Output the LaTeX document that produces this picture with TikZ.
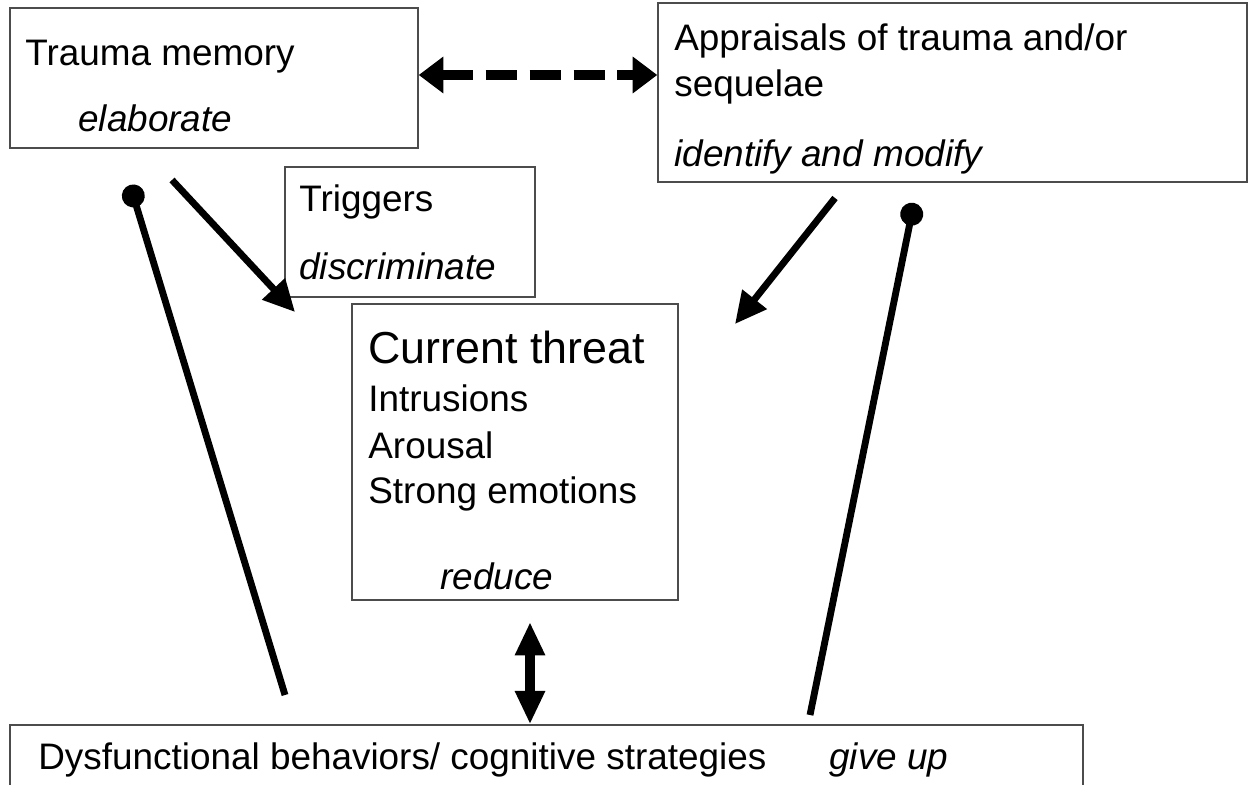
\documentclass[tikz,border=0pt]{standalone}
\usepackage{fontspec}
\setmainfont{Liberation Sans}
\usetikzlibrary{arrows.meta,fit}

\begin{document}
\begin{tikzpicture}[x=0.02cm, y=-0.02cm,
  box/.style = {draw=black!70, line width=0.8pt, inner sep=0pt},
  txt/.style = {anchor=base west, inner sep=0pt, font=\fontsize{21}{25}\selectfont},
  itxt/.style = {txt, font=\fontsize{21}{25}\selectfont\itshape},
  link/.style = {line width=3.9pt},
  head/.style = {-{Triangle[length=18pt,width=17pt]}},
  ball/.style = {{Circle[length=13pt]}-}]
\useasboundingbox (0,0) rectangle (1250,784);

\node[box, fit={(10,8) (418,148)}] (mem) {};
\node[box, fit={(658,3) (1247,182)}] (app) {};
\node[box, fit={(285,167) (535,297)}] (trig) {};
\node[box, fit={(352,304) (678,600)}] (threat) {};
\node[box, fit={(10,725) (1083,800)}] (strat) {};

\node[txt] (mem1) at (25,66) {Trauma memory};
\node[itxt] (mem2) at (78,132) {elaborate};
\node[txt] (app1) at (674,51) {Appraisals of trauma and/or};
\node[txt] (app2) at (674,96) {sequelae};
\node[itxt] (app3) at (674,166) {identify and modify};
\node[txt] (trig1) at (299,211) {Triggers};
\node[itxt] (trig2) at (299,279) {discriminate};
\node[txt, font=\fontsize{25.5}{30}\selectfont] (thr1) at (368,363) {Current threat};
\node[txt] (thr2) at (368,411) {Intrusions};
\node[txt] (thr3) at (368,458) {Arousal};
\node[txt] (thr4) at (368,503) {Strong emotions};
\node[itxt] (thr5) at (440,589) {reduce};
\node[txt] (str1) at (38,769) {Dysfunctional behaviors/ cognitive strategies};
\node[itxt] (str2) at (829,769) {give up};

\coordinate (m1) at (172,180);
\coordinate (m2) at (295,312);
\coordinate (a1) at (835,198);
\coordinate (a2) at (735,324);
\coordinate (l1) at (130,185);
\coordinate (l2) at (285,695);
\coordinate (r1) at (914,203);
\coordinate (r2) at (810,715);
\coordinate (d1) at (530,622);

\draw[line width=6pt, dash pattern=on 18pt off 7pt, {Triangle[length=14pt,width=20pt]}-{Triangle[length=14pt,width=20pt]}] (mem.east |- 0,75) -- (app.west |- 0,75);
\draw[link, head] (m1) -- (m2);
\draw[link, head] (a1) -- (a2);
\draw[link, ball] (l1) -- (l2);
\draw[link, ball] (r1) -- (r2);
\draw[line width=5.5pt, {Triangle[length=19pt,width=16pt]}-{Triangle[length=19pt,width=16pt]}] (d1) -- (d1 |- strat.north);
\end{tikzpicture}
\end{document}
